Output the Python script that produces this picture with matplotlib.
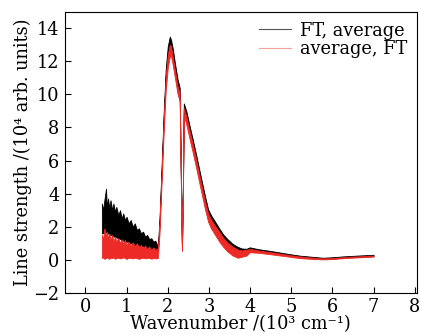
import matplotlib
matplotlib.use("Agg")
import matplotlib.pyplot as plt

plt.rcParams['font.family'] = ['DejaVu Serif']

# Wavenumber grid (10^3 cm^-1) shared by both series
wavenumber = [0.40, 0.43, 0.46, 0.50, 0.52, 0.55, 0.58, 0.61, 0.65, 0.68, 0.72, 0.75, 0.80, 0.84, 0.88,
              0.92, 0.96, 1.00, 1.05, 1.10, 1.15, 1.20, 1.25, 1.30, 1.35, 1.40, 1.45, 1.50, 1.55, 1.60,
              1.65, 1.70, 1.76,
              1.80, 1.85, 1.90, 1.95, 2.00, 2.05, 2.08, 2.12, 2.18, 2.24, 2.29, 2.32, 2.345, 2.37, 2.39,
              2.45, 2.53, 2.60, 2.69, 2.80, 2.90, 2.98, 3.05, 3.15, 3.25, 3.34, 3.45, 3.58, 3.70, 3.80,
              3.91, 3.99, 4.20, 4.50, 4.96, 5.20, 5.50, 5.77, 6.00, 6.25, 6.60, 7.00]

# "FT, average" (black): upper / lower envelope of the line strength (10^4 arb. units)
ft_avg_hi = [3.4, 3.0, 3.6, 4.3, 3.2, 3.7, 3.1, 3.6, 3.0, 3.4, 2.9, 3.2, 2.7, 3.0, 2.5,
             2.8, 2.4, 2.6, 2.2, 2.4, 2.0, 2.2, 1.8, 1.9, 1.6, 1.7, 1.4, 1.5, 1.25, 1.3,
             1.1, 1.15, 0.8,
             2.5, 5.6, 8.8, 11.5, 12.9, 13.5, 13.3, 12.8, 11.8, 10.9, 10.4, 5.0, 0.7, 5.0, 9.45,
             9.0, 8.1, 7.35, 6.35, 5.05, 3.9, 3.05, 2.7, 2.3, 1.9, 1.55, 1.25, 0.95, 0.78, 0.68,
             0.66, 0.75, 0.64, 0.53, 0.34, 0.25, 0.18, 0.12, 0.15, 0.2, 0.25, 0.3]
ft_avg_lo = [1.6, 1.6, 1.6, 1.7, 1.6, 1.6, 1.5, 1.5, 1.5, 1.4, 1.4, 1.35, 1.3, 1.25, 1.2,
             1.15, 1.1, 1.1, 1.05, 1.0, 0.95, 0.9, 0.9, 0.85, 0.8, 0.8, 0.75, 0.7, 0.7, 0.65,
             0.6, 0.6, 0.5,
             2.1, 5.2, 8.4, 11.0, 12.4, 13.0, 12.9, 12.3, 11.3, 10.4, 10.0, 4.6, 0.55, 4.6, 9.05,
             8.6, 7.8, 7.0, 6.0, 4.7, 3.55, 2.75, 2.4, 2.0, 1.65, 1.3, 1.0, 0.72, 0.55, 0.48,
             0.47, 0.57, 0.5, 0.41, 0.24, 0.15, 0.09, 0.05, 0.07, 0.12, 0.17, 0.22]

# "average, FT" (red): upper / lower envelope
avg_ft_hi = [1.5, 1.2, 1.9, 1.4, 1.7, 1.3, 1.6, 1.2, 1.5, 1.1, 1.4, 1.1, 1.3, 1.0, 1.25,
             0.95, 1.2, 0.9, 1.1, 0.85, 1.05, 0.8, 1.0, 0.75, 0.9, 0.7, 0.85, 0.65, 0.8, 0.6,
             0.75, 0.6, 0.7,
             2.3, 5.3, 8.5, 11.1, 12.4, 13.0, 12.9, 12.3, 11.4, 10.5, 10.1, 4.8, 0.65, 4.8, 9.15,
             8.7, 7.8, 7.05, 6.05, 4.75, 3.6, 2.8, 2.45, 2.05, 1.7, 1.35, 1.05, 0.78, 0.62, 0.56,
             0.6, 0.66, 0.56, 0.46, 0.28, 0.2, 0.13, 0.08, 0.1, 0.15, 0.2, 0.25]
avg_ft_lo = [0.1, 0.15, 0.05, 0.1, 0.15, 0.1, 0.05, 0.12, 0.1, 0.15, 0.05, 0.1, 0.12, 0.08, 0.1,
             0.15, 0.1, 0.05, 0.12, 0.1, 0.08, 0.12, 0.1, 0.05, 0.1, 0.12, 0.08, 0.1, 0.12, 0.06,
             0.1, 0.08, 0.1,
             1.6, 4.6, 7.6, 10.2, 11.6, 12.3, 12.3, 11.8, 10.9, 10.0, 9.6, 4.3, 0.55, 4.3, 8.7,
             8.2, 7.3, 6.55, 5.55, 4.25, 3.1, 2.3, 1.9, 1.5, 1.1, 0.8, 0.5, 0.25, 0.12, 0.18,
             0.25, 0.45, 0.42, 0.33, 0.18, 0.1, 0.05, 0.02, 0.04, 0.09, 0.14, 0.19]

series_labels = ['FT, average', 'average, FT']

fig = plt.figure(figsize=(4.21, 3.35), dpi=100)
ax = fig.add_axes([0.154, 0.126, 0.836, 0.839])

black_c = '#000000'
red_c = '#ec2a26'

ax.fill_between(wavenumber, ft_avg_lo, ft_avg_hi, color=black_c, lw=0.6, zorder=2)
ax.fill_between(wavenumber, avg_ft_lo, avg_ft_hi, color=red_c, lw=0.6, zorder=3)

# legend proxies
ax.plot([], [], color='#555555', lw=0.8, label=series_labels[0])
ax.plot([], [], color='#f4a09a', lw=0.8, label=series_labels[1])
ax.legend(loc='upper right', frameon=False, fontsize=12.8, handlelength=1.8,
          borderaxespad=0.15, handletextpad=0.5, labelspacing=0.05)

ax.set_xlim(-0.5, 8.05)
ax.set_ylim(-2, 15)
ax.set_xticks(range(0, 9))
ax.set_yticks(range(-2, 15, 2))
ax.set_yticklabels(['\u22122'] + [str(v) for v in range(0, 15, 2)])
ax.tick_params(direction='in', length=4, labelsize=12.8, top=False, right=False)
ax.tick_params(axis='x', pad=4)
ax.tick_params(axis='y', pad=4)
ax.set_xlabel('Wavenumber /(10\u00b3 cm\u207b\u00b9)', fontsize=12.8, labelpad=-1)
ax.set_ylabel('Line strength /(10\u2074 arb. units)', fontsize=12.8, labelpad=1)

fig.savefig('out.png', dpi=100)
